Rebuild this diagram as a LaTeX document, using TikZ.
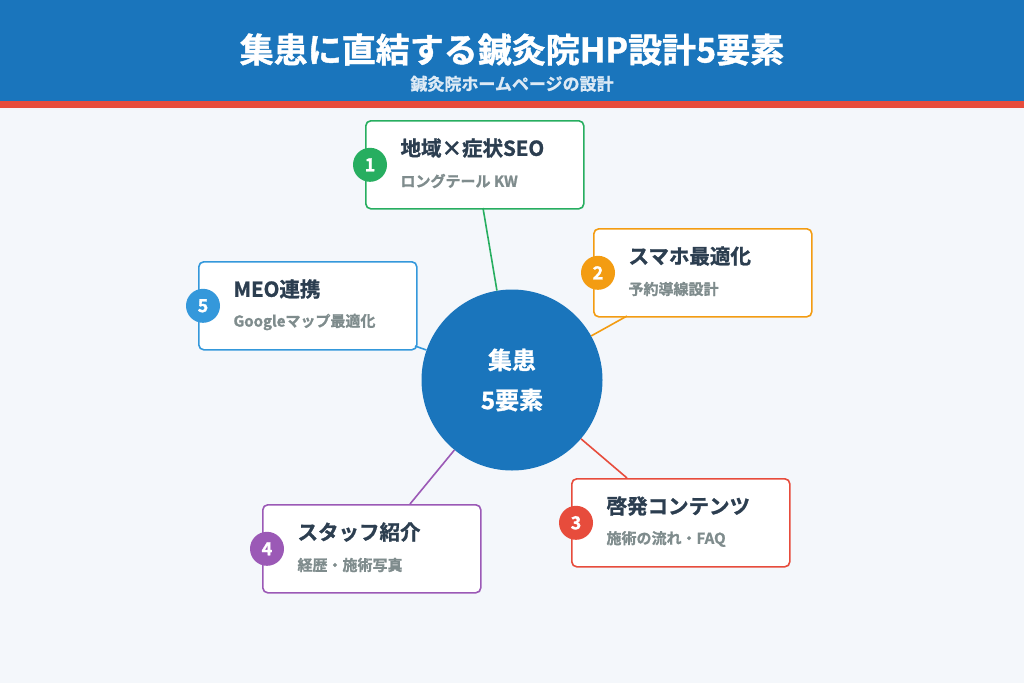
\documentclass[tikz,border=0pt]{standalone}
\usepackage{fontspec}
\setmainfont{Noto Sans CJK JP}[BoldFont={Noto Sans CJK JP Bold}, BoldFeatures={FakeBold=1.2}]
\usepackage{tikz}
\usetikzlibrary{positioning}
\definecolor{hdblue}{HTML}{1A75BC}
\definecolor{hdred}{HTML}{E74C3C}
\definecolor{bgpale}{HTML}{F4F7FB}
\definecolor{cgreen}{HTML}{27AE60}
\definecolor{corange}{HTML}{F39C12}
\definecolor{cred}{HTML}{E74C3C}
\definecolor{cpurple}{HTML}{9B59B6}
\definecolor{cblue}{HTML}{3498DB}
\definecolor{txtdark}{HTML}{2C3E50}
\definecolor{txtgray}{HTML}{7F8C8D}
\tikzset{%
    card/.style={draw=#1, line width=1.6pt, fill=white, rounded corners=5pt,
        minimum width=218pt, minimum height=88pt, inner sep=0pt},
    badge/.style={circle, fill=#1, minimum size=34pt, inner sep=0pt,
        text=white, font=\bfseries\fontsize{18}{18}\selectfont},
    link/.style={draw=#1, line width=1.6pt},
    headline/.style={anchor=west, text=txtdark, font=\bfseries\fontsize{20.5}{22}\selectfont},
    subline/.style={anchor=west, text=txtgray, font=\bfseries\fontsize{15}{16}\selectfont}
}
\newcommand{\card}[7]{% name, color, x, y, number, title, subtitle
    \node[card=#2, anchor=north west] (#1) at (#3,#4) {};
    \node[badge=#2] (#1n) at ([xshift=5pt]#1.west) {#5};
    \node[headline] (#1t) at ([xshift=32pt,yshift=-28pt]#1.north west) {#6};
    \node[subline] (#1s) at ([xshift=32pt,yshift=-61pt]#1.north west) {#7};
}
\begin{document}
\begin{tikzpicture}[x=1pt,y=-1pt]
    \useasboundingbox (0,0) rectangle (1024,683);
    \fill[bgpale] (0,0) rectangle (1024,683);
    \fill[hdblue] (0,0) rectangle (1024,101);
    \fill[hdred] (0,101) rectangle (1024,108);
    \node[text=white, font=\bfseries\fontsize{34}{36}\selectfont] (title) at (512,50) {集患に直結する鍼灸院HP設計5要素};
    \node[text=white!85!hdblue, font=\bfseries\fontsize{17}{18}\selectfont] (sub) at (512,84) {鍼灸院ホームページの設計};

    % hub
    \node[circle, fill=hdblue, minimum size=181pt, inner sep=0pt, text=white,
        align=center, font=\bfseries\fontsize{24}{40}\selectfont] (hub) at (512,380) {集患\\5要素};

    \card{seo}{cgreen}{365}{120}{1}{地域×症状SEO}{ロングテール KW}
    \card{mob}{corange}{593}{228}{2}{スマホ最適化}{予約導線設計}
    \card{edu}{cred}{571}{478}{3}{啓発コンテンツ}{施術の流れ・FAQ}
    \card{stf}{cpurple}{262}{504}{4}{スタッフ紹介}{経歴・施術写真}
    \card{meo}{cblue}{198}{261}{5}{MEO連携}{Googleマップ最適化}

    \coordinate (seoend) at (483,208);
    \coordinate (mobend) at (627,316);
    \coordinate (eduend) at (627,478);
    \coordinate (stfend) at (410,504);
    \coordinate (meoend) at (415,346);

    \draw[link=cgreen] (hub) -- (seoend);
    \draw[link=corange] (hub) -- (mobend);
    \draw[link=cred] (hub) -- (eduend);
    \draw[link=cpurple] (hub) -- (stfend);
    \draw[link=cblue] (hub) -- (meoend);
\end{tikzpicture}
\end{document}
